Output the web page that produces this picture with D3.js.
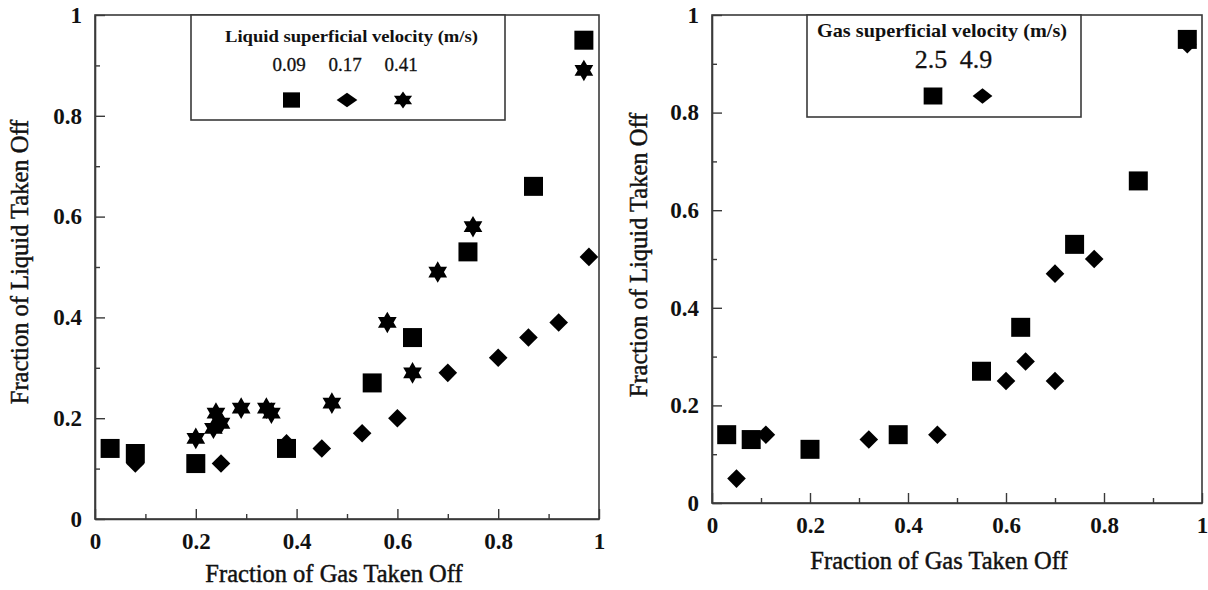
<!DOCTYPE html>
<html>
<head>
<meta charset="utf-8">
<script src="https://cdn.jsdelivr.net/npm/d3@7"></script>
<style>
  html, body { margin: 0; padding: 0; background: #fff; }
  svg { display: block; }
  text { font-family: "Liberation Serif", "DejaVu Serif", serif; fill: #111; }
</style>
</head>
<body>
<svg id="chart" width="1208" height="590"></svg>
<script>
// ---------- data ----------
// Left panel: liquid superficial velocity series
const leftLegendTitle = "Liquid superficial velocity (m/s)";
const leftSeriesNames = ["0.09", "0.17", "0.41"];
const leftX_009 = [0.03, 0.08, 0.20, 0.38, 0.55, 0.63, 0.74, 0.87, 0.97];
const leftY_009 = [0.14, 0.13, 0.11, 0.14, 0.27, 0.36, 0.53, 0.66, 0.95];
const leftX_017 = [0.08, 0.25, 0.38, 0.45, 0.53, 0.60, 0.70, 0.80, 0.86, 0.92, 0.98];
const leftY_017 = [0.11, 0.11, 0.15, 0.14, 0.17, 0.20, 0.29, 0.32, 0.36, 0.39, 0.52];
const leftX_041 = [0.20, 0.24, 0.25, 0.235, 0.29, 0.34, 0.35, 0.47, 0.58, 0.63, 0.68, 0.75, 0.97];
const leftY_041 = [0.16, 0.21, 0.19, 0.18, 0.22, 0.22, 0.21, 0.23, 0.39, 0.29, 0.49, 0.58, 0.89];

// Right panel: gas superficial velocity series
const rightLegendTitle = "Gas superficial velocity (m/s)";
const rightSeriesNames = ["2.5", "4.9"];
const rightX_25 = [0.03, 0.08, 0.20, 0.38, 0.55, 0.63, 0.74, 0.87, 0.97];
const rightY_25 = [0.14, 0.13, 0.11, 0.14, 0.27, 0.36, 0.53, 0.66, 0.95];
const rightX_49 = [0.05, 0.11, 0.32, 0.46, 0.60, 0.64, 0.70, 0.70, 0.78, 0.97];
const rightY_49 = [0.05, 0.14, 0.13, 0.14, 0.25, 0.29, 0.25, 0.47, 0.50, 0.94];

// Axis ticks and titles
const majorTicks = [0, 0.2, 0.4, 0.6, 0.8, 1];
const minorTicks = [0.1, 0.3, 0.5, 0.7, 0.9];
const tickLabels = ["0", "0.2", "0.4", "0.6", "0.8", "1"];
const xTitle = "Fraction of Gas Taken Off";
const yTitle = "Fraction of Liquid Taken Off";

// ---------- symbols ----------
const hexagram = {
  draw(ctx, size) {
    const R = Math.sqrt(size);
    for (let k = 0; k < 12; k++) {
      const a = -Math.PI / 2 + k * Math.PI / 6;
      const r = k % 2 === 0 ? R : R / Math.sqrt(3);
      const x = r * Math.cos(a), y = r * Math.sin(a);
      if (k === 0) ctx.moveTo(x, y); else ctx.lineTo(x, y);
    }
    ctx.closePath();
  }
};
const rhombus = {
  draw(ctx, size) {
    const h = Math.sqrt(size);
    ctx.moveTo(0, -h); ctx.lineTo(h, 0); ctx.lineTo(0, h); ctx.lineTo(-h, 0);
    ctx.closePath();
  }
};
const shapes = {
  square: d3.symbol().type(d3.symbolSquare).size(19 * 19),
  diamond: d3.symbol().type(rhombus).size(9.3 * 9.3),
  star: d3.symbol().type(hexagram).size(10.8 * 10.8)
};
const legendShapes = {
  square: d3.symbol().type(d3.symbolSquare).size(17 * 17),
  diamond: d3.symbol().type(rhombus).size(9 * 9),
  star: d3.symbol().type(hexagram).size(10 * 10)
};

const svg = d3.select("#chart");
const FONT = '"Liberation Serif", "DejaVu Serif", serif';

function panel(cfg) {
  const x = d3.scaleLinear().domain([0, 1]).range([cfg.left, cfg.right]);
  const y = d3.scaleLinear().domain([0, 1]).range([cfg.bottom, cfg.top]);
  const g = svg.append("g");

  // frame
  g.append("rect")
    .attr("x", cfg.left).attr("y", cfg.top)
    .attr("width", cfg.right - cfg.left).attr("height", cfg.bottom - cfg.top)
    .attr("fill", "none").attr("stroke", "#3a3a3a").attr("stroke-width", 1.6);

  const styleTickText = sel => sel.attr("font-size", 23).attr("font-family", FONT)
    .attr("font-weight", "bold").attr("fill", "#111");

  // x axis (inward ticks)
  const xa = g.append("g").attr("transform", `translate(0,${cfg.bottom})`)
    .attr("font-family", FONT)
    .call(d3.axisBottom(x).tickValues(majorTicks).tickSizeInner(-10).tickSizeOuter(0)
      .tickFormat((d, i) => tickLabels[i]).tickPadding(cfg.xPad));
  xa.select(".domain").attr("stroke", "#3a3a3a").attr("stroke-width", 1.6);
  xa.selectAll(".tick line").attr("stroke", "#3a3a3a").attr("stroke-width", 1.4);
  styleTickText(xa.selectAll(".tick text"));
  const xm = g.append("g").attr("transform", `translate(0,${cfg.bottom})`)
    .call(d3.axisBottom(x).tickValues(minorTicks).tickSizeInner(-5).tickSizeOuter(0).tickFormat(""));
  xm.select(".domain").remove();
  xm.selectAll(".tick line").attr("stroke", "#3a3a3a").attr("stroke-width", 1.4);

  // y axis (inward ticks)
  const ya = g.append("g").attr("transform", `translate(${cfg.left},0)`)
    .attr("font-family", FONT)
    .call(d3.axisLeft(y).tickValues(majorTicks).tickSizeInner(-10).tickSizeOuter(0)
      .tickFormat((d, i) => tickLabels[i]).tickPadding(cfg.yPad));
  ya.select(".domain").attr("stroke", "#3a3a3a").attr("stroke-width", 1.6);
  ya.selectAll(".tick line").attr("stroke", "#3a3a3a").attr("stroke-width", 1.4);
  styleTickText(ya.selectAll(".tick text"));
  const ym = g.append("g").attr("transform", `translate(${cfg.left},0)`)
    .call(d3.axisLeft(y).tickValues(minorTicks).tickSizeInner(-5).tickSizeOuter(0).tickFormat(""));
  ym.select(".domain").remove();
  ym.selectAll(".tick line").attr("stroke", "#3a3a3a").attr("stroke-width", 1.4);

  // axis titles
  g.append("text").attr("x", cfg.xTitleX).attr("y", cfg.xTitleY)
    .attr("text-anchor", "middle").attr("dominant-baseline", "middle")
    .attr("font-size", 24.5).attr("stroke", "#111").attr("stroke-width", 0.45).text(xTitle);
  g.append("text")
    .attr("transform", `translate(${cfg.yTitleX},${cfg.yTitleY}) rotate(-90)`)
    .attr("text-anchor", "middle").attr("dominant-baseline", "middle")
    .attr("font-size", 24.5).attr("stroke", "#111").attr("stroke-width", 0.45).text(yTitle);

  // legend box
  const lg = g.append("g");
  lg.append("rect").attr("x", cfg.legend.x0).attr("y", cfg.legend.y0)
    .attr("width", cfg.legend.x1 - cfg.legend.x0).attr("height", cfg.legend.y1 - cfg.legend.y0)
    .attr("fill", "#fff").attr("stroke", "#3a3a3a").attr("stroke-width", 1.6);
  lg.append("text").attr("x", cfg.legend.titleX).attr("y", cfg.legend.titleY)
    .attr("text-anchor", "middle").attr("dominant-baseline", "middle")
    .attr("font-weight", "bold").attr("font-size", cfg.legend.titleSize)
    .attr("textLength", cfg.legend.titleLen).attr("lengthAdjust", "spacingAndGlyphs")
    .text(cfg.legend.title);
  cfg.series.forEach((s, i) => {
    lg.append("text").attr("x", cfg.legend.labelX[i]).attr("y", cfg.legend.labelY)
      .attr("text-anchor", "middle").attr("dominant-baseline", "middle")
      .attr("font-size", cfg.legend.labelSize).attr("stroke", "#111").attr("stroke-width", 0.3)
      .text(s.name);
    lg.append("path")
      .attr("transform", `translate(${cfg.legend.symX[i]},${cfg.legend.symY}) scale(${cfg.legend.sx[i]},${cfg.legend.sy[i]})`)
      .attr("d", legendShapes[s.shape]()).attr("fill", "#000");
  });

  // points
  cfg.series.forEach(s => {
    const pts = s.xs.map((v, i) => [v, s.ys[i]]);
    g.append("g").selectAll("path").data(pts).join("path")
      .attr("transform", d => `translate(${x(d[0])},${y(d[1])})`)
      .attr("d", shapes[s.shape]()).attr("fill", "#000");
  });
}

panel({
  left: 95, right: 599, top: 15, bottom: 519,
  xPad: 14, yPad: 13,
  xTitleX: 334, xTitleY: 576,
  yTitleX: 22, yTitleY: 262,
  legend: {
    x0: 191, y0: 15, x1: 505, y1: 120,
    title: leftLegendTitle, titleX: 351.5, titleY: 38, titleSize: 17, titleLen: 253,
    labelX: [289, 345, 401], labelY: 67, labelSize: 19,
    symX: [291.5, 347, 403], symY: 100,
    sx: [1, 1.15, 1.05], sy: [0.9, 0.8, 0.85]
  },
  series: [
    { name: leftSeriesNames[0], xs: leftX_009, ys: leftY_009, shape: "square" },
    { name: leftSeriesNames[1], xs: leftX_017, ys: leftY_017, shape: "diamond" },
    { name: leftSeriesNames[2], xs: leftX_041, ys: leftY_041, shape: "star" }
  ]
});

panel({
  left: 712, right: 1202, top: 15, bottom: 503,
  xPad: 14, yPad: 13,
  xTitleX: 939, xTitleY: 563,
  yTitleX: 641, yTitleY: 255,
  legend: {
    x0: 807, y0: 15, x1: 1081, y1: 117,
    title: rightLegendTitle, titleX: 942, titleY: 33, titleSize: 19, titleLen: 250,
    labelX: [931, 976], labelY: 62, labelSize: 26,
    symX: [933, 982.5], symY: 96,
    sx: [1.1, 1.1], sy: [1, 0.85]
  },
  series: [
    { name: rightSeriesNames[0], xs: rightX_25, ys: rightY_25, shape: "square" },
    { name: rightSeriesNames[1], xs: rightX_49, ys: rightY_49, shape: "diamond" }
  ]
});
</script>
</body>
</html>
